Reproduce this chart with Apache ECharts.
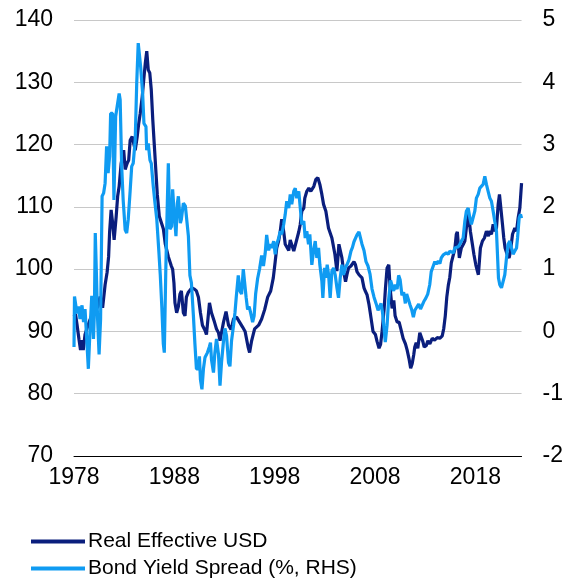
<!DOCTYPE html>
<html><head><meta charset="utf-8">
<script src="https://cdn.jsdelivr.net/npm/echarts@6/dist/echarts.min.js"></script>
<style>html,body{margin:0;padding:0;background:#fff}#c{width:566px;height:579px}</style>
</head><body><div id="c"></div>
<script>
const START_YEAR = 1978;
const xTickYears = [1978, 1988, 1998, 2008, 2018];
const leftTicks = [70, 80, 90, 100, 110, 120, 130, 140];
const rightTicks = [-2, -1, 0, 1, 2, 3, 4, 5];
const seriesNames = ['Real Effective USD', 'Bond Yield Spread (%, RHS)'];

const usdYears = [1978.0,1978.15,1978.3,1978.5,1978.65,1978.8,1978.92,1979.1,1979.3,1979.6,1979.86,1980.1,1980.4,1980.6,1980.85,1981.1,1981.3,1981.45,1981.55,1981.7,1981.85,1982.0,1982.2,1982.35,1982.5,1982.7,1982.95,1983.1,1983.3,1983.45,1983.6,1983.8,1983.95,1984.1,1984.3,1984.45,1984.6,1984.8,1984.95,1985.1,1985.25,1985.4,1985.55,1985.7,1985.85,1986.0,1986.15,1986.3,1986.5,1986.7,1986.9,1987.1,1987.25,1987.4,1987.55,1987.7,1987.83,1987.96,1988.06,1988.23,1988.4,1988.56,1988.7,1988.9,1989.06,1989.2,1989.4,1989.56,1989.75,1990.0,1990.2,1990.4,1990.6,1990.8,1991.05,1991.2,1991.5,1991.7,1992.0,1992.2,1992.4,1992.55,1992.9,1993.15,1993.4,1993.65,1993.9,1994.2,1994.5,1994.8,1995.05,1995.35,1995.5,1995.7,1996.0,1996.4,1996.7,1997.0,1997.3,1997.6,1997.86,1998.05,1998.2,1998.4,1998.55,1998.7,1998.9,1999.05,1999.4,1999.55,1999.9,2000.05,2000.4,2000.55,2000.7,2000.9,2001.0,2001.2,2001.4,2001.6,2001.9,2002.1,2002.3,2002.5,2002.7,2002.87,2003.1,2003.36,2003.7,2004.0,2004.2,2004.4,2004.7,2004.86,2005.06,2005.2,2005.36,2005.6,2005.9,2006.05,2006.2,2006.4,2006.7,2006.9,2007.05,2007.2,2007.4,2007.55,2007.8,2008.04,2008.2,2008.4,2008.55,2008.7,2008.9,2009.04,2009.2,2009.37,2009.5,2009.7,2009.87,2010.0,2010.2,2010.4,2010.6,2010.8,2011.03,2011.2,2011.4,2011.55,2011.7,2011.86,2011.96,2012.1,2012.26,2012.46,2012.6,2012.76,2012.9,2013.1,2013.26,2013.46,2013.7,2013.9,2014.2,2014.45,2014.7,2014.85,2015.0,2015.15,2015.3,2015.45,2015.6,2015.8,2015.95,2016.1,2016.2,2016.4,2016.6,2016.8,2016.95,2017.1,2017.3,2017.4,2017.5,2017.7,2017.85,2018.04,2018.2,2018.3,2018.4,2018.5,2018.7,2018.9,2019.1,2019.3,2019.4,2019.6,2019.77,2019.9,2020.1,2020.27,2020.4,2020.5,2020.7,2020.83,2020.96,2021.16,2021.36,2021.5,2021.7,2021.93,2022.1,2022.26,2022.43,2022.6];
const usdValues = [92.4,92.8,91.1,88.7,87,88.6,87,89.5,90.5,91.9,92.9,93.4,94,95.6,93.8,97.5,99.5,102,106,109.5,107.4,104.7,108.4,111.7,113.3,117,119.1,116,117,117.5,120.7,121.3,120.2,119.1,121.3,123.4,125,127.7,130.4,133,135,132,131.5,128.8,124,120,116,112,108.5,107.5,106.5,104,103,102,101.8,100.5,100,97.8,94.6,93,94,96,96.5,93,92.5,95.5,96.3,96.5,97,96.8,96.5,95.5,93,91,90.2,89.5,94.6,93,91.5,90.4,89.8,88.5,91.5,93.2,91,90.3,92,92.3,91.5,90.7,90,87.5,86.6,88.5,90.4,91,92,93.5,95.5,96.5,98.6,101.2,103.4,104.6,106,108,106,104,103,104.7,102.9,102.6,106,107.2,109.3,109.8,111.4,112.5,113,112.5,113.3,114.4,114.7,113.6,112,110.4,109.3,106.6,105,102.4,99.7,104,101.8,99.7,98,99.1,100.2,100.5,101.2,100.7,99.6,99.1,98.6,97,96.4,95.9,94.3,92.7,90,89.5,88.4,87.3,87.9,90,93.5,97,100.2,100.7,97,93.7,95,92.5,91.5,91.5,90.2,88.9,88,87,85.5,84.1,84.8,86.3,87.5,88.2,87.3,89.8,89.5,88.4,87.5,87.7,88.5,88,88.9,88.6,89,88.9,89.3,90.5,92.5,95.5,97.4,98.7,101,102.3,103.2,105.6,106,101.8,103.4,104,104.5,106.6,108.8,107.7,106.1,104,102.4,100.7,99.7,99.1,101.3,103.4,104.5,105,106.1,105.3,106.1,105.6,107.2,106.1,106.6,110.4,112,110.4,107.2,105,103.4,102.4,101.8,102.9,105.6,106.6,106.1,108.2,109.8,113.8];

const spreadYears = [1978.0,1978.05,1978.3,1978.45,1978.6,1978.8,1978.95,1979.1,1979.28,1979.43,1979.6,1979.77,1979.94,1980.03,1980.12,1980.22,1980.35,1980.5,1980.65,1980.8,1980.95,1981.1,1981.25,1981.4,1981.55,1981.65,1981.85,1981.98,1982.15,1982.3,1982.5,1982.6,1982.75,1982.9,1983.1,1983.25,1983.4,1983.6,1983.75,1983.9,1984.1,1984.25,1984.4,1984.5,1984.64,1984.84,1984.97,1985.17,1985.24,1985.4,1985.57,1985.7,1985.9,1986.07,1986.25,1986.45,1986.6,1986.75,1986.9,1987.0,1987.15,1987.3,1987.4,1987.56,1987.73,1987.83,1987.96,1988.16,1988.3,1988.4,1988.6,1988.7,1988.9,1989.1,1989.25,1989.4,1989.55,1989.7,1989.9,1990.05,1990.2,1990.4,1990.5,1990.6,1990.75,1990.9,1991.05,1991.2,1991.3,1991.5,1991.6,1991.7,1991.9,1992.04,1992.2,1992.4,1992.55,1992.7,1992.9,1993.04,1993.2,1993.4,1993.54,1993.7,1993.9,1994.04,1994.18,1994.37,1994.54,1994.7,1994.87,1995.0,1995.15,1995.3,1995.45,1995.6,1995.8,1995.95,1996.1,1996.3,1996.5,1996.7,1996.88,1997.05,1997.2,1997.4,1997.56,1997.7,1997.9,1998.05,1998.2,1998.4,1998.55,1998.7,1998.9,1999.05,1999.2,1999.4,1999.55,1999.7,1999.9,2000.05,2000.2,2000.4,2000.55,2000.7,2000.9,2001.04,2001.2,2001.37,2001.5,2001.7,2001.87,2002.04,2002.2,2002.37,2002.5,2002.7,2002.8,2002.97,2003.1,2003.23,2003.37,2003.53,2003.7,2003.87,2004.03,2004.2,2004.36,2004.53,2004.7,2004.86,2005.03,2005.2,2005.4,2005.6,2005.75,2005.9,2006.2,2006.4,2006.55,2006.7,2006.9,2007.1,2007.3,2007.5,2007.7,2007.9,2008.1,2008.3,2008.45,2008.6,2008.75,2008.9,2009.02,2009.2,2009.35,2009.55,2009.7,2009.85,2010.02,2010.2,2010.35,2010.5,2010.68,2010.85,2011.02,2011.15,2011.3,2011.5,2011.65,2011.82,2011.97,2012.15,2012.35,2012.53,2012.7,2012.86,2013.05,2013.25,2013.45,2013.6,2013.8,2013.96,2014.1,2014.3,2014.46,2014.6,2014.8,2014.95,2015.1,2015.3,2015.45,2015.6,2015.8,2015.95,2016.1,2016.3,2016.45,2016.6,2016.78,2016.95,2017.1,2017.28,2017.45,2017.6,2017.78,2017.94,2018.1,2018.28,2018.44,2018.6,2018.77,2018.94,2019.1,2019.27,2019.44,2019.6,2019.77,2019.93,2020.1,2020.2,2020.3,2020.43,2020.6,2020.77,2020.93,2021.1,2021.26,2021.43,2021.6,2021.76,2021.93,2022.1,2022.2,2022.36,2022.5,2022.6];
const spreadValues = [-0.25,0.56,0.29,0.40,0.20,0.42,0.15,0.36,0.39,-0.60,0.04,0.57,-0.12,0.30,1.58,1.00,0.20,-0.37,0.20,2.17,2.22,2.38,2.97,2.54,2.81,3.50,3.50,2.11,3.45,3.61,3.82,3.72,2.65,2.11,1.63,1.58,1.79,2.27,2.65,2.70,3.07,3.98,4.63,4.65,4.25,3.82,3.34,3.29,2.91,3.02,2.75,2.70,2.33,2.06,1.80,1.30,0.90,0.40,-0.20,-0.34,1.00,2.06,2.70,1.64,1.69,2.28,1.96,1.53,2.06,2.17,1.74,1.80,2.06,2.01,2.00,1.53,0.90,0.78,0.25,-0.20,-0.60,-0.60,-0.40,-0.77,-0.93,-0.60,-0.42,-0.45,-0.34,-0.24,-0.18,-0.45,-0.66,-0.34,-0.12,-0.37,-0.87,-0.50,-0.15,0.05,-0.07,-0.50,-0.56,-0.15,0.10,0.30,0.57,0.90,0.65,0.60,1.00,0.97,0.55,0.35,0.40,0.30,0.15,0.25,0.60,0.85,1.01,1.22,1.05,1.25,1.55,1.30,1.40,1.34,1.45,1.24,1.40,1.50,1.61,1.56,1.72,1.88,2.09,1.98,2.20,2.04,2.25,2.30,2.14,2.25,1.98,1.72,1.77,1.50,1.61,1.40,1.56,1.07,1.29,1.45,1.18,1.34,1.07,0.81,0.54,1.02,0.86,1.07,0.91,0.54,0.97,1.02,0.91,0.70,0.54,0.86,1.07,0.91,1.02,1.07,1.15,1.29,1.35,1.44,1.55,1.60,1.63,1.40,1.30,1.12,1.05,0.92,0.68,0.55,0.45,0.34,0.35,0.45,0.30,0.05,-0.17,0.10,0.50,0.82,0.83,0.65,0.75,0.68,0.90,0.83,0.58,0.63,0.45,0.60,0.60,0.42,0.35,0.23,0.34,0.32,0.44,0.36,0.37,0.48,0.53,0.60,0.75,0.96,1.05,1.12,1.08,1.13,1.09,1.18,1.23,1.21,1.26,1.24,1.29,1.26,1.26,1.34,1.32,1.36,1.40,1.45,1.50,1.77,1.93,1.98,1.82,1.72,1.72,1.93,2.14,2.20,2.30,2.30,2.36,2.49,2.36,2.25,2.14,2.09,1.93,1.77,1.61,1.24,0.86,0.75,0.70,0.73,0.91,1.18,1.40,1.45,1.34,1.24,1.29,1.34,1.50,1.82,1.88,1.82];

const X_SPAN = 44.6;
const FONT = '"Liberation Sans", Arial, sans-serif';
const toPairs = (ys, vs) => ys.map((y, i) => [y - START_YEAR, vs[i]]);

const chart = echarts.init(document.getElementById('c'), null, {renderer: 'canvas'});
chart.setOption({
  animation: false,
  backgroundColor: '#ffffff',
  grid: {left: 74, right: 44, top: 20, bottom: 123, containLabel: false},
  legend: {
    orient: 'vertical', left: 31, top: 531, itemGap: 6, padding: 0, height: 48,
    itemWidth: 54, itemHeight: 4, icon: 'rect',
    textStyle: {fontFamily: FONT, fontSize: 21, color: '#000', padding: [0, 0, 0, -2]},
    data: seriesNames
  },
  xAxis: {
    type: 'value', min: 0, max: X_SPAN, interval: 10,
    axisLine: {show: true, onZero: false, lineStyle: {color: '#000', width: 1}},
    axisTick: {show: false},
    splitLine: {show: false},
    axisLabel: {
      fontFamily: FONT, fontSize: 23, color: '#000', margin: 10,
      showMaxLabel: false,
      formatter: v => xTickYears.includes(START_YEAR + v) ? String(START_YEAR + v) : ''
    }
  },
  yAxis: [
    {
      type: 'value', min: leftTicks[0], max: leftTicks[leftTicks.length - 1], interval: 10,
      axisLine: {show: false}, axisTick: {show: false},
      splitLine: {show: true, lineStyle: {color: '#c8c8c8', width: 1}},
      axisLabel: {fontFamily: FONT, fontSize: 23, color: '#000', margin: 21}
    },
    {
      type: 'value', min: rightTicks[0], max: rightTicks[rightTicks.length - 1], interval: 1,
      position: 'right',
      axisLine: {show: false}, axisTick: {show: false},
      splitLine: {show: false},
      axisLabel: {fontFamily: FONT, fontSize: 23, color: '#000', margin: 21}
    }
  ],
  series: [
    {
      name: seriesNames[0], type: 'line', yAxisIndex: 0, showSymbol: false,
      data: toPairs(usdYears, usdValues),
      lineStyle: {color: '#0a1e7d', width: 3.2}, itemStyle: {color: '#0a1e7d'}
    },
    {
      name: seriesNames[1], type: 'line', yAxisIndex: 1, showSymbol: false,
      data: toPairs(spreadYears, spreadValues),
      lineStyle: {color: '#0f9bf2', width: 3.2}, itemStyle: {color: '#0f9bf2'}
    }
  ]
});
</script></body></html>
